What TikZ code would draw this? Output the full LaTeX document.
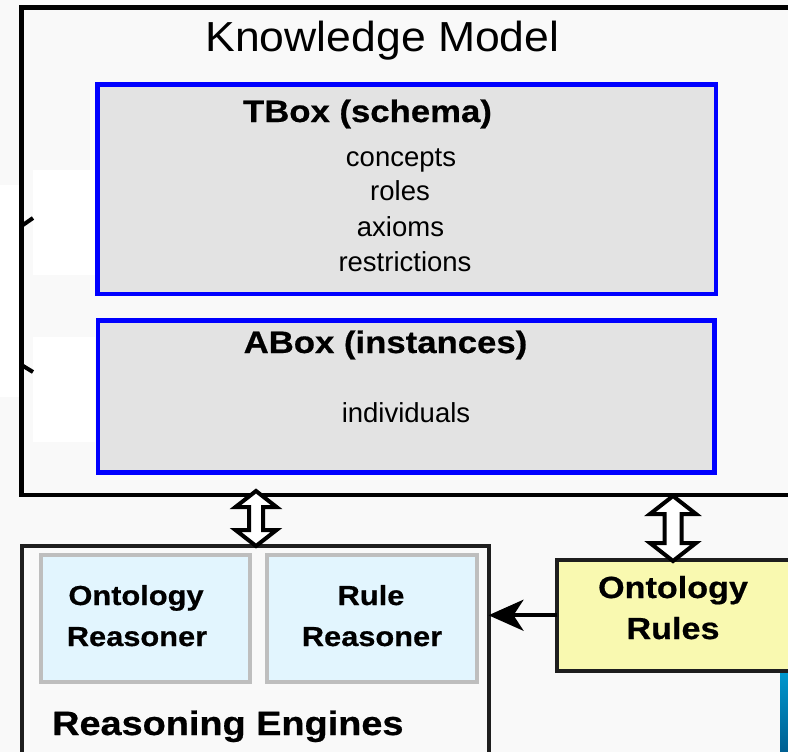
\documentclass[tikz,border=0pt]{standalone}
\usepackage{fontspec}
\setmainfont{Liberation Sans}
\newfontfamily\kmfont{Liberation Sans}[FakeStretch=1.06]
\newfontfamily\hdfont{Liberation Sans Bold}[FakeStretch=1.12,FakeBold=0.6]
\usetikzlibrary{arrows.meta,fit}

\definecolor{bgtone}{RGB}{249,249,249}
\definecolor{boxgray}{RGB}{227,227,227}
\definecolor{pureblue}{RGB}{0,0,255}
\definecolor{darkline}{RGB}{30,30,30}
\definecolor{reasfill}{RGB}{226,245,254}
\definecolor{reasborder}{RGB}{190,190,190}
\definecolor{rulefill}{RGB}{249,249,176}
\definecolor{stripa}{RGB}{0,150,205}
\definecolor{stripb}{RGB}{0,95,145}

% hollow double-headed block arrow: x, top tip, bottom tip, head half width, shaft half width, head length
\newcommand\hollowdbl[6]{%
  \draw[line width=4, fill=white, line join=miter]
    (#1,#2) -- (#1+#4,#2+#6) -- (#1+#5,#2+#6) -- (#1+#5,#3-#6) -- (#1+#4,#3-#6)
    -- (#1,#3) -- (#1-#4,#3-#6) -- (#1-#5,#3-#6) -- (#1-#5,#2+#6) -- (#1-#4,#2+#6) -- cycle;}

\tikzset{
  kmbox/.style={draw=black, line width=4.5, inner sep=0pt, outer sep=0pt},
  bluebox/.style={draw=pureblue, fill=boxgray, line width=4.5, inner sep=0pt, outer sep=0pt},
  engbox/.style={draw=darkline, line width=4, inner sep=0pt, outer sep=0pt},
  reasbox/.style={draw=reasborder, fill=reasfill, line width=4, inner sep=0pt, outer sep=0pt},
  rulebox/.style={draw=darkline, fill=rulefill, line width=4, inner sep=0pt, outer sep=0pt},
  txt/.style={inner sep=0pt, anchor=base, text=black},
  titlefont/.style={font=\kmfont\fontsize{42}{50}\selectfont},
  headfont/.style={font=\hdfont\fontsize{31}{37}\selectfont},
  itemfont/.style={font=\fontsize{27.5}{33}\selectfont},
  labfont/.style={font=\hdfont\fontsize{27.5}{33}\selectfont},
  rulesfont/.style={font=\hdfont\fontsize{30.5}{36}\selectfont},
  engfont/.style={font=\hdfont\fontsize{33.8}{40}\selectfont},
}

\begin{document}
\begin{tikzpicture}[x=1pt, y=-1pt]
  \clip (0,0) rectangle (788,752);
  \fill[bgtone] (0,0) rectangle (788,752);
  % white patches
  \fill[white] (0,185) rectangle (19,397);
  \fill[white] (33,170) rectangle (95,275);
  \fill[white] (33,337) rectangle (95,442);

  % knowledge model
  \node[kmbox, fit={(21.5,7.5) (900,495)}] (km) {};
  \node[txt, titlefont] (kmtitle) at (382.5,52) {Knowledge Model};
  \draw[line width=4] (21.5,226) -- (33,218);
  \draw[line width=4] (21.5,365) -- (33,372);

  % TBox
  \node[bluebox, fit={(97.5,84.5) (716,294)}] (tbox) {};
  \node[txt, headfont] (tboxtitle) at (367.5,122) {TBox (schema)};
  \node[txt, itemfont] (concepts) at (401,166) {concepts};
  \node[txt, itemfont] (roles) at (400,200) {roles};
  \node[txt, itemfont] (axioms) at (400.5,236) {axioms};
  \node[txt, itemfont] (restrictions) at (405,271) {restrictions};

  % ABox
  \node[bluebox, fit={(98,320.5) (714.5,472.5)}] (abox) {};
  \node[txt, headfont] (aboxtitle) at (385.5,353) {ABox (instances)};
  \node[txt, itemfont] (individuals) at (406,422) {individuals};

  % reasoning engines
  \node[engbox, fit={(21.5,546) (488.5,900)}] (eng) {};
  \node[reasbox, fit={(41,555) (249.5,682)}] (ontreas) {};
  \node[txt, labfont] (ontreasa) at (136,605) {Ontology};
  \node[txt, labfont] (ontreasb) at (137,646) {Reasoner};
  \node[reasbox, fit={(267,555) (477,682)}] (rulereas) {};
  \node[txt, labfont] (rulereasa) at (371,605) {Rule};
  \node[txt, labfont] (rulereasb) at (372,646) {Reasoner};
  \node[txt, engfont, anchor=base west] (engtitle) at (52,735) {Reasoning Engines};

  % ontology rules
  \node[rulebox, fit={(556.5,559.5) (900,671)}] (rules) {};
  \node[txt, rulesfont] (rulesa) at (673,598) {Ontology};
  \node[txt, rulesfont] (rulesb) at (673,639) {Rules};

  % strip on the right edge
  \shade[top color=stripa, bottom color=stripb] (780,673) rectangle (790,752);

  % connectors
  \draw[line width=4, -{Stealth[length=35pt, width=31pt, inset=10pt]}]
    (rules.west) -- (eng.east |- rules.west);
  \hollowdbl{256}{491}{546}{20.5}{7}{16}
  \hollowdbl{673}{496}{561}{23}{8.5}{18}
\end{tikzpicture}
\end{document}
